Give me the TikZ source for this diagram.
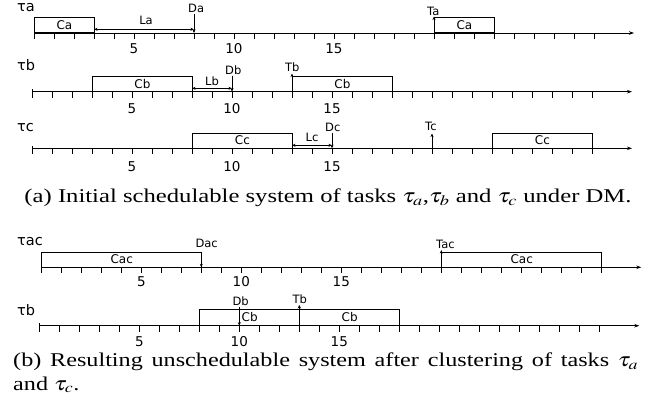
\documentclass[tikz,border=0pt]{standalone}
\usepackage{mathptmx}
\usepackage{fontspec}
\setmainfont{Liberation Serif}
\newfontfamily\lblfont{DejaVu Sans}
\usetikzlibrary{arrows.meta}
\begin{document}
\begin{tikzpicture}[x=1pt,y=-1pt,
  axisline/.style={line width=0.8pt,-{Stealth[length=5pt,width=3.5pt]}},
  tickmark/.style={line width=0.8pt},
  jobbox/.style={draw,line width=0.8pt,minimum height=15pt,inner sep=0pt,anchor=south west,font=\lblfont\fontsize{12}{12}\selectfont},
  tasklbl/.style={font=\lblfont\fontsize{14.5}{14.5}\selectfont,anchor=west,inner sep=0pt},
  numlbl/.style={font=\lblfont\fontsize{13.5}{13.5}\selectfont,inner sep=0pt},
  smalllbl/.style={font=\lblfont\fontsize{11.5}{11.5}\selectfont,inner sep=0pt},
  evlbl/.style={font=\lblfont\fontsize{11.5}{11.5}\selectfont,inner sep=0pt,anchor=west},
  captxt/.style={font=\fontsize{19.5}{22}\selectfont,inner sep=0pt},
  darrow/.style={line width=0.7pt,{Stealth[length=3.5pt,width=3pt]}-{Stealth[length=3.5pt,width=3pt]}},
  sarrow/.style={line width=0.8pt,-{Stealth[length=3.5pt,width=3pt]}},
  tarrow/.style={line width=1.6pt,-{Stealth[length=3.5pt,width=3.5pt]}},
]
\useasboundingbox (0,0) rectangle (659,407);

% ---------- row tau_a ----------
\draw[axisline] (34,33) -- (634,33);
\draw[tickmark] (34,30.5) -- (34,33);
\foreach \k in {0,...,28} \draw[tickmark] (34+\k*20,33) -- ++(0,6);
\node[tasklbl] (ta) at (17,8) {τa};
\foreach \v in {5,10,15} \node[numlbl] at (34+\v*20,48.5) {\v};
\node[jobbox,minimum width=60pt] (ca1) at (34,33) {Ca};
\node[jobbox,minimum width=60pt] (ca2) at (434,33) {Ca};
\coordinate (la-s) at (94,29.3);
\coordinate (la-e) at (194,29.3);
\draw[darrow] (la-s) -- (la-e);
\node[smalllbl] (la) at (146,20) {La};
\node[evlbl] (da) at (188,8.5) {Da};
\coordinate (da-pt) at (194,33);
\draw[sarrow] (194,14) -- (da-pt);
\node[evlbl] (tal) at (427,11) {Ta};
\coordinate (ta-pt) at (434,33);
\draw[sarrow] (ta-pt) -- (434,16.5);

% ---------- row tau_b ----------
\draw[axisline] (32,91.7) -- (632,91.7);
\draw[tickmark] (32,89.2) -- (32,91.7);
\foreach \k in {0,...,28} \draw[tickmark] (32+\k*20,91.7) -- ++(0,6);
\node[tasklbl] (tb) at (17,65) {τb};
\foreach \v in {5,10,15} \node[numlbl] at (32+\v*20,108.3) {\v};
\node[jobbox,minimum width=100pt] (cb1) at (92,91.7) {Cb};
\node[jobbox,minimum width=100pt] (cb2) at (292,91.7) {Cb};
\coordinate (lb-s) at (192,88.3);
\coordinate (lb-e) at (232,88.3);
\draw[darrow] (lb-s) -- (lb-e);
\node[smalllbl] (lb) at (212,81.5) {Lb};
\node[evlbl] (db) at (225,70) {Db};
\coordinate (db-pt) at (232,91.7);
\draw[sarrow] (232,75.5) -- (db-pt);
\node[evlbl] (tbl) at (285,67.5) {Tb};
\coordinate (tb-pt) at (292,91.7);
\draw[sarrow] (tb-pt) -- (292,73.5);

% ---------- row tau_c ----------
\draw[axisline] (32,148.3) -- (632,148.3);
\draw[tickmark] (32,145.8) -- (32,148.3);
\foreach \k in {0,...,28} \draw[tickmark] (32+\k*20,148.3) -- ++(0,6);
\node[tasklbl] (tc) at (17,128) {τc};
\foreach \v in {5,10,15} \node[numlbl] at (32+\v*20,166.7) {\v};
\node[jobbox,minimum width=100pt] (cc1) at (192,148.3) {Cc};
\node[jobbox,minimum width=100pt] (cc2) at (492,148.3) {Cc};
\coordinate (lc-s) at (292,145.3);
\coordinate (lc-e) at (332,145.3);
\draw[darrow] (lc-s) -- (lc-e);
\node[smalllbl] (lc) at (312,137.5) {Lc};
\node[evlbl] (dc) at (325,127) {Dc};
\coordinate (dc-pt) at (332,148.3);
\draw[sarrow] (332,133) -- (dc-pt);
\node[evlbl] (tcl) at (425,126.5) {Tc};
\coordinate (tc-pt) at (432,148.3);
\draw[sarrow] (tc-pt) -- (432,133.5);

% ---------- caption (a) ----------
\node[captxt,anchor=base] (capa) at (328,202.7)
  {\resizebox{607pt}{\height}{(a) Initial schedulable system of tasks $\tau_a$,$\tau_b$ and $\tau_c$ under DM.}};

% ---------- row tau_ac ----------
\draw[axisline] (41.3,267.3) -- (641.3,267.3);
\draw[tickmark] (41.3,264.8) -- (41.3,267.3);
\foreach \k in {0,...,28} \draw[tickmark] (41.3+\k*20,267.3) -- ++(0,6);
\node[tasklbl] (tac) at (17,241.7) {τac};
\foreach \v in {5,10,15} \node[numlbl] at (41.3+\v*20,281.7) {\v};
\node[jobbox,minimum width=160pt] (cac1) at (41.3,267.3) {Cac};
\node[jobbox,minimum width=160pt] (cac2) at (441.3,267.3) {Cac};
\node[evlbl] (dac) at (195.3,243.5) {Dac};
\coordinate (dac-pt) at (201.3,267.3);
\draw[sarrow] (201.3,252.3) -- (dac-pt);
\node[evlbl] (tacl) at (436,244) {Tac};
\coordinate (tac-pt) at (441.3,267.3);
\draw[sarrow] (tac-pt) -- (441.3,250);

% ---------- row tau_b (b) ----------
\draw[axisline] (39.3,325.7) -- (639.3,325.7);
\draw[tickmark] (39.3,323.2) -- (39.3,325.7);
\foreach \k in {0,...,28} \draw[tickmark] (39.3+\k*20,325.7) -- ++(0,6);
\node[tasklbl] (tb2) at (17,310) {τb};
\foreach \v in {5,10,15} \node[numlbl] at (39.3+\v*20,342) {\v};
\node[jobbox,minimum width=100pt,minimum height=16.4pt] (cbb1) at (199.3,325.7) {\raisebox{-1pt}{Cb}};
\node[jobbox,minimum width=100pt,minimum height=16.4pt] (cbb2) at (299.3,325.7) {\raisebox{-1pt}{Cb}};
\node[evlbl] (dbb) at (232.3,301) {Db};
\coordinate (dbb-pt) at (239.3,325.7);
\draw[sarrow] (239.3,306.7) -- (dbb-pt);
\node[evlbl] (tbb) at (292.3,299) {Tb};
\coordinate (tbb-pt) at (299.3,325.7);
\draw[tarrow] (tbb-pt) -- (299.3,305);

% ---------- caption (b) ----------
\node[captxt,anchor=base west] (capb1) at (13,366.7)
  {\scalebox{1.24}[1]{\makebox[504pt][s]{(b) Resulting unschedulable system after clustering of tasks $\tau_a$}}};
\node[captxt,anchor=base west] (capb2) at (13,390) {\scalebox{1.24}[1]{and $\tau_c$.}};
\end{tikzpicture}
\end{document}
